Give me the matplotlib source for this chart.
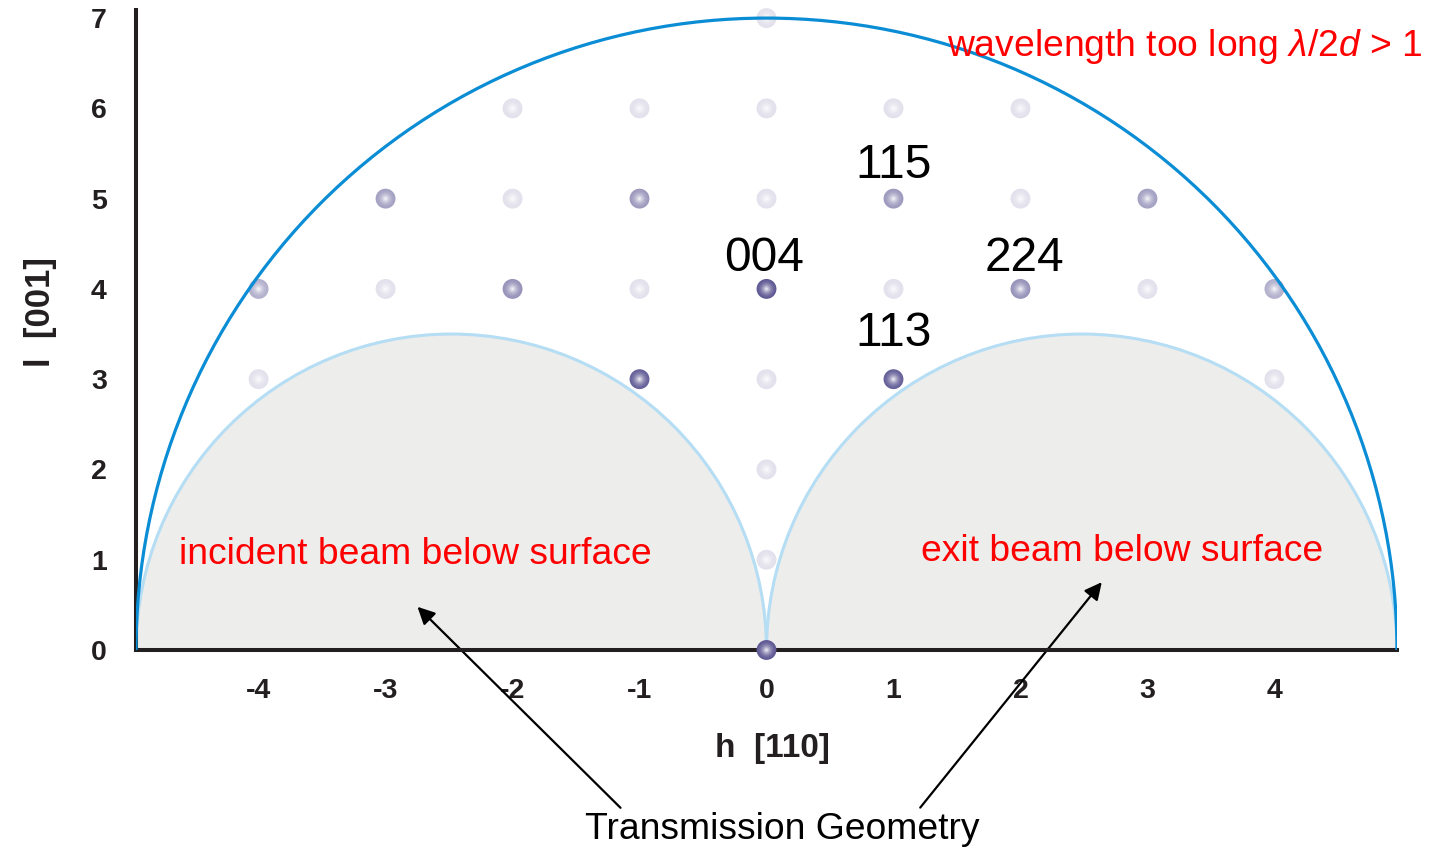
import numpy as np
import matplotlib
matplotlib.use('Agg')
import matplotlib.pyplot as plt
from matplotlib.patches import Ellipse
from matplotlib.colors import to_rgb

plt.rcParams['font.family'] = ['Liberation Sans', 'DejaVu Sans']
plt.rcParams['mathtext.fontset'] = 'custom'
plt.rcParams['mathtext.rm'] = 'Liberation Sans'
plt.rcParams['mathtext.it'] = 'Liberation Sans:italic'
plt.rcParams['axes.unicode_minus'] = False

# reciprocal lattice spots: h [110], l [001] and a relative strength
spot_h = [0,
          0,
          0,
          -4, -1, 0, 1, 4,
          -4, -3, -2, -1, 0, 1, 2, 3, 4,
          -3, -2, -1, 0, 1, 2, 3,
          -2, -1, 0, 1, 2,
          0]
spot_l = [0,
          1,
          2,
          3, 3, 3, 3, 3,
          4, 4, 4, 4, 4, 4, 4, 4, 4,
          5, 5, 5, 5, 5, 5, 5,
          6, 6, 6, 6, 6,
          7]
spot_w = [1.0,
          0.05,
          0.05,
          0.05, 0.95, 0.05, 0.95, 0.05,
          0.4, 0.05, 0.6, 0.05, 1.0, 0.05, 0.6, 0.05, 0.4,
          0.5, 0.05, 0.55, 0.05, 0.55, 0.05, 0.5,
          0.05, 0.05, 0.05, 0.05, 0.05,
          0.05]

# reflection labels (h, l) and where they sit
refl_names = ['115', '004', '224', '113']
refl_x = [1.0, -0.02, 2.03, 1.0]
refl_y = [5.37, 4.34, 4.34, 3.51]

# Ewald limit (half width in h, height in l) and the two blind regions
limit_a, limit_b = 4.965, 7.0
blind_a, blind_b = 2.4825, 3.5

ink = '#231f20'
light = np.array(to_rgb('#e9e8f1'))
dark = np.array(to_rgb('#605b95'))

fig = plt.figure(figsize=(14.35, 8.52), dpi=100)
ax = fig.add_axes([0.0948, 0.2371, 0.8787, 0.7512])
ax.set_xlim(-limit_a, limit_a)
ax.set_ylim(0, 7.09)

for cx in (-blind_a, blind_a):
    ax.add_patch(Ellipse((cx, 0), 2 * blind_a, 2 * blind_b, facecolor='#ededeb',
                         edgecolor='#b5ddf4', lw=2.2, zorder=1))
ax.add_patch(Ellipse((0, 0), 2 * limit_a, 2 * limit_b, facecolor='none',
                     edgecolor='#0a8dd5', lw=2.3, zorder=5))

# spheres: stack of shrinking discs fading to white at the middle
w = np.array(spot_w)[:, None]
base = light + (dark - light) * w
n_layers = 14
for k in range(n_layers):
    frac = 1 - k / n_layers
    mix = (1 - frac) ** 1.8
    cols = base + (1 - base) * mix
    ax.scatter(spot_h, spot_l, s=205 * frac ** 2, c=np.clip(cols, 0, 1),
               linewidths=0, zorder=4, clip_on=False)

for name, x, y in zip(refl_names, refl_x, refl_y):
    ax.text(x, y, name, fontsize=34.5, ha='center', va='center', color='black', zorder=6)

red_kw = dict(color='red', fontsize=26.8, va='center', zorder=6, clip_on=False)
ax.text(5.165, 6.68, r'wavelength too long $\mathit{\lambda/2d}$ > 1', ha='right', **red_kw)
ax.text(-2.764, 1.06, 'incident beam below surface', ha='center', **red_kw)
ax.text(2.80, 1.09, 'exit beam below surface', ha='center', **red_kw)

ax.text(0.126, -1.99, 'Transmission Geometry', fontsize=26.8, ha='center',
        va='center', color='black', clip_on=False)
arrow_kw = dict(arrowstyle='-|>', color='black', lw=1.6, mutation_scale=26)
ax.annotate('', xy=(-2.764, 0.50), xytext=(-1.134, -1.77), arrowprops=arrow_kw,
            annotation_clip=False)
ax.annotate('', xy=(2.654, 0.775), xytext=(1.197, -1.77), arrowprops=arrow_kw,
            annotation_clip=False)

for side in ('top', 'right'):
    ax.spines[side].set_visible(False)
for side in ('left', 'bottom'):
    ax.spines[side].set_linewidth(2.9)
    ax.spines[side].set_color(ink)
    ax.spines[side].set_zorder(3)

ax.set_xticks(range(-4, 5))
ax.set_yticks(range(0, 8))
ax.tick_params(length=0, labelsize=20.5, colors=ink)
ax.tick_params(axis='x', pad=20)
ax.tick_params(axis='y', pad=21)
for lab in ax.get_xticklabels() + ax.get_yticklabels():
    lab.set_fontweight('bold')

ax.set_xlabel('h  [110]', fontsize=24, fontweight='bold', color=ink)
ax.xaxis.set_label_coords(0.505, -0.13)
ax.set_ylabel('l  [001]', fontsize=25, fontweight='bold', color=ink)
ax.yaxis.set_label_coords(-0.063, 0.528)

fig.savefig('out.png', dpi=100)
